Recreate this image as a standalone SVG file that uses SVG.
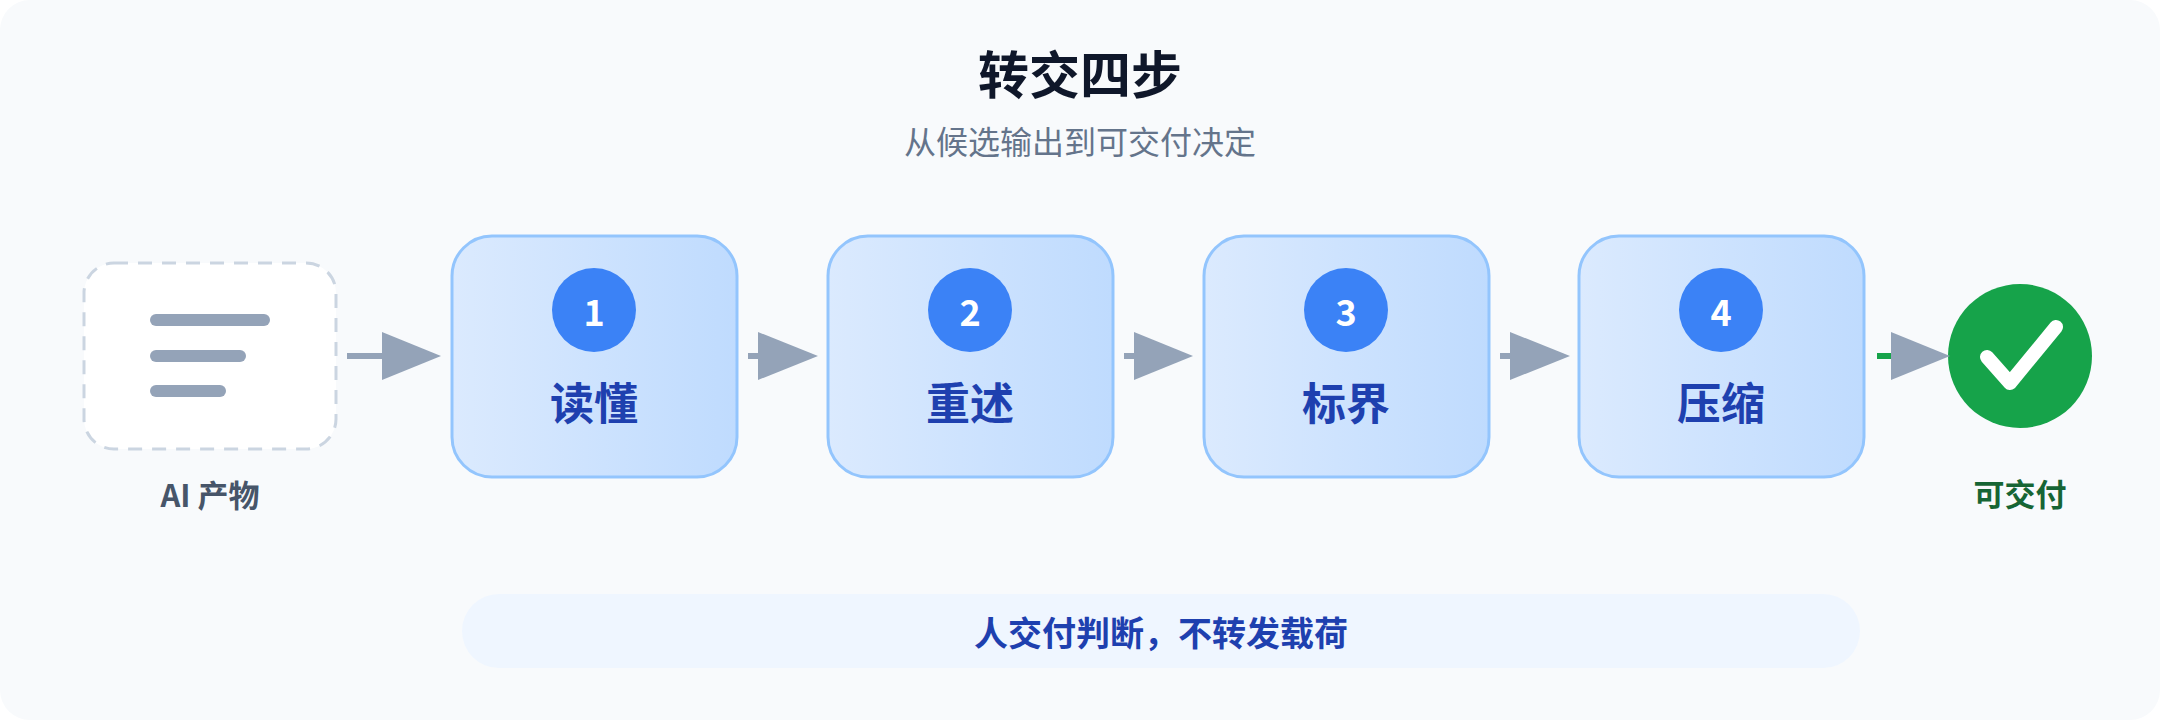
<svg xmlns="http://www.w3.org/2000/svg" width="2160" height="720" viewBox="0 0 2160 720">
<style>
text{font-family:"Noto Sans CJK SC","Noto Sans",sans-serif;text-anchor:middle;dominant-baseline:central}
.step{fill:url(#g);stroke:#93c5fd;stroke-width:3}
.num{fill:#3b82f6}
.numt{fill:#fff;font-size:36px;font-weight:700}
.lab{fill:#1e40af;font-size:44px;font-weight:700}
.ln{stroke:#94a3b8;stroke-width:6}
.hd{fill:#94a3b8}
</style>
<defs>
<linearGradient id="g" x1="0" y1="0" x2="1" y2="0"><stop offset="0" stop-color="#dbeafe"/><stop offset="1" stop-color="#bfdbfe"/></linearGradient>
</defs>
<rect x="0" y="0" width="2160" height="720" rx="30" fill="#f8fafc"/>
<text x="1080" y="72" font-size="51" font-weight="700" fill="#0f172a">转交四步</text>
<text x="1080" y="140" font-size="32" fill="#64748b">从候选输出到可交付决定</text>
<g id="ai">
<rect x="84" y="263" width="252" height="186" rx="30" fill="#fff" stroke="#cbd5e1" stroke-width="3" stroke-dasharray="14 10"/>
<g stroke="#94a3b8" stroke-width="12" stroke-linecap="round"><line x1="156" y1="320" x2="264" y2="320"/><line x1="156" y1="356" x2="240" y2="356"/><line x1="156" y1="391" x2="220" y2="391"/></g>
<text x="210" y="493" font-size="31" font-weight="700" fill="#475569">AI 产物</text>
</g>
<g id="s1"><rect class="step" x="452" y="236" width="285" height="241" rx="40"/><circle class="num" cx="594" cy="310" r="42"/><text class="numt" x="594" y="310">1</text><text class="lab" x="594" y="401">读懂</text></g>
<g id="s2"><rect class="step" x="828" y="236" width="285" height="241" rx="40"/><circle class="num" cx="970" cy="310" r="42"/><text class="numt" x="970" y="310">2</text><text class="lab" x="970" y="401">重述</text></g>
<g id="s3"><rect class="step" x="1204" y="236" width="285" height="241" rx="40"/><circle class="num" cx="1346" cy="310" r="42"/><text class="numt" x="1346" y="310">3</text><text class="lab" x="1346" y="401">标界</text></g>
<g id="s4"><rect class="step" x="1579" y="236" width="285" height="241" rx="40"/><circle class="num" cx="1721" cy="310" r="42"/><text class="numt" x="1721" y="310">4</text><text class="lab" x="1721" y="401">压缩</text></g>
<g id="done">
<circle cx="2020" cy="356" r="72" fill="#16a34a"/>
<polyline points="1987,357 2010,383 2056,327" fill="none" stroke="#fff" stroke-width="14" stroke-linecap="round" stroke-linejoin="round"/>
<text x="2020" y="492" font-size="31" font-weight="700" fill="#166534">可交付</text>
</g>
<g id="connectors">
<line class="ln" x1="347" y1="356" x2="386" y2="356"/><polygon class="hd" points="382,332 441,356 382,380"/>
<line class="ln" x1="748" y1="356" x2="762" y2="356"/><polygon class="hd" points="758,332 818,356 758,380"/>
<line class="ln" x1="1124" y1="356" x2="1138" y2="356"/><polygon class="hd" points="1134,332 1193,356 1134,380"/>
<line class="ln" x1="1500" y1="356" x2="1514" y2="356"/><polygon class="hd" points="1510,332 1570,356 1510,380"/>
<line x1="1877" y1="356" x2="1894" y2="356" stroke="#16a34a" stroke-width="6"/><polygon class="hd" points="1891,332 1950,356 1891,380"/>
</g>
<g id="note">
<rect x="462" y="594" width="1398" height="74" rx="37" fill="#eff6ff"/>
<text x="1161" y="631" font-size="34" font-weight="700" fill="#1e40af">人交付判断，不转发载荷</text>
</g>
</svg>
